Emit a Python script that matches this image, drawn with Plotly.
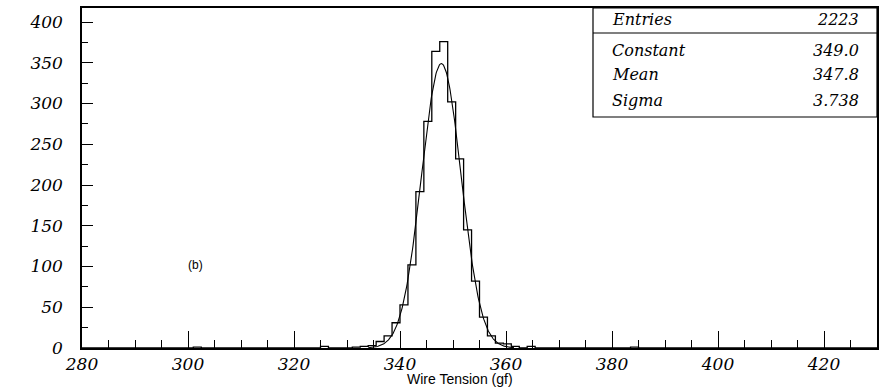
import plotly.graph_objects as go
import numpy as np

# ---- data ----
x_min, x_max, bin_width = 280.0, 430.0, 1.5
counts = [
    0, 0, 0, 0, 0, 0, 0, 0, 0, 0,        # 280-295
    0, 0, 0, 0, 1, 0, 0, 0, 0, 0,        # 295-310
    0, 0, 0, 0, 0, 0, 0, 0, 0, 0,        # 310-325
    2, 0, 0, 0, 1, 2, 3, 8, 15, 31,      # 325-340
    53, 102, 192, 278, 364, 376, 302, 232, 145, 82,   # 340-355
    38, 15, 6, 5, 2, 0, 2, 0, 0, 0,      # 355-370
    0, 0, 0, 0, 0, 0, 0, 0, 0, 1,        # 370-385
    0, 0, 0, 0, 0, 0, 0, 0, 0, 0,        # 385-400
    0, 0, 0, 0, 0, 0, 0, 0, 0, 0,        # 400-415
    0, 0, 0, 0, 0, 0, 0, 0, 0, 0,        # 415-430
]
fit_constant, fit_mean, fit_sigma = 349.0, 347.8, 3.738
fit_range = [334.0, 361.5]
stats_labels = ["Entries", "Constant", "Mean", "Sigma"]
stats_values = ["2223", "349.0", "347.8", "3.738"]
x_title = "Wire Tension (gf)"
panel_label = "(b)"

# ---- figure ----
edges = [x_min + i * bin_width for i in range(len(counts) + 1)]
step_x = edges
step_y = counts + [counts[-1]]

fx = np.linspace(fit_range[0], fit_range[1], 300)
fy = fit_constant * np.exp(-0.5 * ((fx - fit_mean) / fit_sigma) ** 2)

fig = go.Figure()
fig.add_trace(go.Scatter(x=step_x, y=step_y, mode="lines",
                         line=dict(shape="hv", color="black", width=1.3),
                         hoverinfo="skip", showlegend=False))
fig.add_trace(go.Scatter(x=fx, y=fy, mode="lines",
                         line=dict(color="black", width=1.1),
                         hoverinfo="skip", showlegend=False))

tick_font = dict(family="DejaVu Serif", size=17, color="black", style="italic")

fig.update_layout(
    width=887, height=388,
    margin=dict(l=82, r=10, t=8, b=40),
    paper_bgcolor="white", plot_bgcolor="white",
    showlegend=False,
    xaxis=dict(range=[x_min, x_max], tickmode="linear", tick0=280, dtick=20,
               ticks="inside", ticklen=17, tickwidth=1, tickcolor="black",
               minor=dict(ticks="inside", dtick=5, ticklen=8, tickcolor="black", tickwidth=1),
               showline=True, linecolor="black", linewidth=1.5, mirror=True,
               showgrid=False, zeroline=False, tickfont=tick_font,
               ticklabelstandoff=0, automargin=False),
    yaxis=dict(range=[0, 417.2], tickmode="linear", tick0=0, dtick=50,
               ticks="inside", ticklen=11, tickwidth=1, tickcolor="black",
               minor=dict(ticks="inside", dtick=25, ticklen=6, tickcolor="black", tickwidth=1),
               showline=True, linecolor="black", linewidth=1.5, mirror=True,
               showgrid=False, zeroline=False, tickfont=tick_font,
               ticklabelstandoff=14, automargin=False),
)

# stats box
px2x = lambda p: (p - 82) / 795.0
px2y = lambda p: (348 - p) / 340.0
fig.add_shape(type="rect", xref="paper", yref="paper",
              x0=px2x(593), x1=1.0, y0=px2y(117), y1=1.0,
              line=dict(color="black", width=1.2), fillcolor="white", layer="above")
fig.add_shape(type="line", xref="paper", yref="paper",
              x0=px2x(593), x1=1.0, y0=px2y(33), y1=px2y(33),
              line=dict(color="black", width=1.2), layer="above")
row_y = [20, 50, 75, 100]
stat_font = dict(family="DejaVu Serif", size=16, color="black", style="italic")
for lab, val, py in zip(stats_labels, stats_values, row_y):
    fig.add_annotation(xref="paper", yref="paper", x=px2x(610), y=px2y(py),
                       text=lab, showarrow=False, xanchor="left", yanchor="middle",
                       font=stat_font)
    fig.add_annotation(xref="paper", yref="paper", x=px2x(861), y=px2y(py),
                       text=val, showarrow=False, xanchor="right", yanchor="middle",
                       font=stat_font)

fig.add_annotation(xref="paper", yref="paper", x=px2x(460), y=px2y(379),
                   text=x_title, showarrow=False, xanchor="center", yanchor="middle",
                   font=dict(family="Liberation Sans", size=14, color="black"))
fig.add_annotation(xref="x", yref="y", x=301.5, y=102,
                   text=panel_label, showarrow=False, xanchor="center", yanchor="middle",
                   font=dict(family="Liberation Sans", size=12, color="black"))

fig.write_html("out.html", config={"displayModeBar": False},
               post_script="document.body.style.margin='0';document.body.style.overflow='hidden';")
